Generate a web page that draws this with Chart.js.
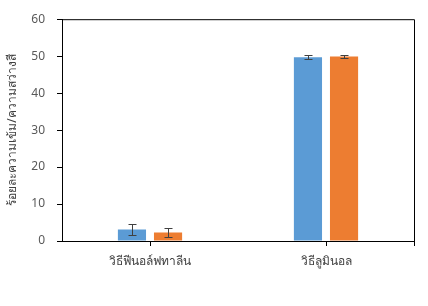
<!DOCTYPE html>
<html lang="th">
<head>
<meta charset="UTF-8">
<title>กราฟแท่ง</title>
<script src="https://cdn.jsdelivr.net/npm/chart.js"></script>
<style>
  body { margin: 0; background: #fff; }
  #wrap { width: 428px; height: 306px; }
</style>
</head>
<body>
<div id="wrap"><canvas id="chart" width="428" height="306"></canvas></div>
<script>
const categories = ['วิธีฟีนอล์ฟทาลีน', 'วิธีลูมินอล'];
const blueValues = [3.1, 49.7];
const blueErrors = [1.6, 0.5];
const orangeValues = [2.3, 49.9];
const orangeErrors = [1.1, 0.3];
const yTicks = [0, 10, 20, 30, 40, 50, 60];
const yTitle = 'ร้อยละความเข้ม/ความสว่างสี';

const fontFamily = 'Tahoma, "Noto Sans", "DejaVu Sans", sans-serif';

// error bars + frame around plot area
const errorBarPlugin = {
    id: 'errorBars',
    afterDatasetsDraw(chart) {
        const ctx = chart.ctx;
        const y = chart.scales.y;
        const a = chart.chartArea;
        ctx.save();
        ctx.strokeStyle = '#000';
        ctx.lineWidth = 1;
        ctx.beginPath();
        ctx.moveTo(a.left, a.top + 0.5);
        ctx.lineTo(a.right + 0.5, a.top + 0.5);
        ctx.lineTo(a.right + 0.5, a.bottom + 5);
        ctx.stroke();

        ctx.strokeStyle = '#404040';
        chart.data.datasets.forEach((ds, di) => {
            const meta = chart.getDatasetMeta(di);
            meta.data.forEach((bar, i) => {
                const v = ds.data[i];
                const e = ds.errors[i];
                const x = Math.round(bar.x) + 0.5;
                const yt = Math.round(y.getPixelForValue(v + e)) + 0.5;
                const yb = Math.round(y.getPixelForValue(v - e)) + 0.5;
                ctx.beginPath();
                ctx.moveTo(x, yt); ctx.lineTo(x, yb);
                ctx.moveTo(x - 4, yt); ctx.lineTo(x + 4, yt);
                ctx.moveTo(x - 4, yb); ctx.lineTo(x + 4, yb);
                ctx.stroke();
            });
        });
        ctx.restore();
    }
};

new Chart(document.getElementById('chart').getContext('2d'), {
    type: 'bar',
    data: {
        labels: categories,
        datasets: [{
            label: 'blue',
            data: blueValues,
            errors: blueErrors,
            backgroundColor: '#5B9BD5',
            categoryPercentage: 0.41,
            barPercentage: 0.78
        }, {
            label: 'orange',
            data: orangeValues,
            errors: orangeErrors,
            backgroundColor: '#ED7D31',
            categoryPercentage: 0.41,
            barPercentage: 0.78
        }]
    },
    options: {
        responsive: false,
        animation: false,
        layout: { padding: { top: 17, right: 14, left: 0, bottom: 0 } },
        plugins: {
            legend: { display: false },
            tooltip: { enabled: false }
        },
        scales: {
            x: {
                grid: {
                    display: true,
                    offset: false,
                    drawOnChartArea: false,
                    drawTicks: true,
                    tickLength: 5,
                    color: '#000'
                },
                border: { color: '#000', width: 1 },
                ticks: {
                    color: '#404040',
                    padding: 8,
                    font: { family: fontFamily, size: 12 }
                },
                afterFit(scale) { scale.height = 65; }
            },
            y: {
                min: 0,
                max: 60,
                afterBuildTicks(scale) { scale.ticks = yTicks.map(v => ({ value: v })); },
                grid: {
                    drawOnChartArea: false,
                    drawTicks: true,
                    tickLength: 5,
                    color: '#000'
                },
                border: { color: '#000', width: 1 },
                ticks: {
                    color: '#595959',
                    padding: 12,
                    font: { family: fontFamily, size: 12 }
                },
                title: {
                    display: true,
                    text: yTitle,
                    color: '#404040',
                    padding: { top: 5, bottom: 2 },
                    font: { family: fontFamily, size: 12 }
                },
                afterFit(scale) { scale.width = 62; }
            }
        }
    },
    plugins: [errorBarPlugin]
});
</script>
</body>
</html>
